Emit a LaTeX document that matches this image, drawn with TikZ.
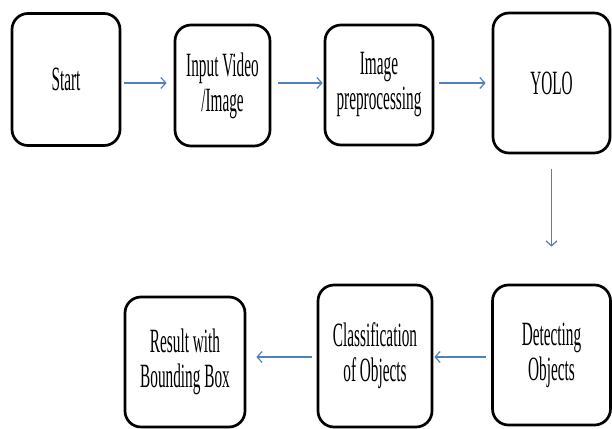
\documentclass[tikz,border=0pt]{standalone}
\usepackage{fontspec}
\setmainfont[FakeStretch=0.45]{Liberation Serif}
\usetikzlibrary{arrows.meta}
\definecolor{arrblue}{RGB}{79,129,189}
\begin{document}
\begin{tikzpicture}[x=1pt,y=-1pt,
 box/.style={draw=black, line width=2.7pt, rounded corners=16pt, align=center, inner sep=0pt, fill=white, font=\fontsize{34}{35}\selectfont},
 arr/.style={draw=arrblue, line width=1.2pt, -{Straight Barb[length=5pt,width=11pt]}}]
\useasboundingbox[fill=white] (0,0) rectangle (612,428);
\node[box, minimum width=108, minimum height=132] (start) at (66,79.5) {Start};
\node[box, minimum width=95, minimum height=121] (input) at (222.5,85.5) {Input Video\\/Image};
\node[box, minimum width=108, minimum height=120] (prep) at (379,85) {Image\\preprocessing};
\node[box, minimum width=117, minimum height=140] (yolo) at (551.5,83) {YOLO};
\node[box, minimum width=118, minimum height=140] (detect) at (551.5,355) {Detecting\\Objects};
\node[box, minimum width=114, minimum height=142] (class) at (375,356) {Classification\\of Objects};
\node[box, minimum width=120, minimum height=130] (result) at (185,362) {Result with\\Bounding Box};
\draw[arr, shorten <=3pt, shorten >=7pt] (start.east |- 0,83) -- (input.west |- 0,83);
\draw[arr, shorten <=7pt, shorten >=1pt] (input.east |- 0,83) -- (prep.west |- 0,83);
\draw[arr, shorten <=5pt, shorten >=6pt] (prep.east |- 0,83) -- (yolo.west |- 0,83);
\draw[arr, shorten <=15pt, shorten >=37pt] (yolo.south) -- (detect.north);
\draw[arr, shorten <=5pt, shorten >=1pt] (detect.west |- 0,357) -- (class.east |- 0,357);
\draw[arr, shorten <=5pt, shorten >=10pt] (class.west |- 0,357) -- (result.east |- 0,357);
\end{tikzpicture}
\end{document}
